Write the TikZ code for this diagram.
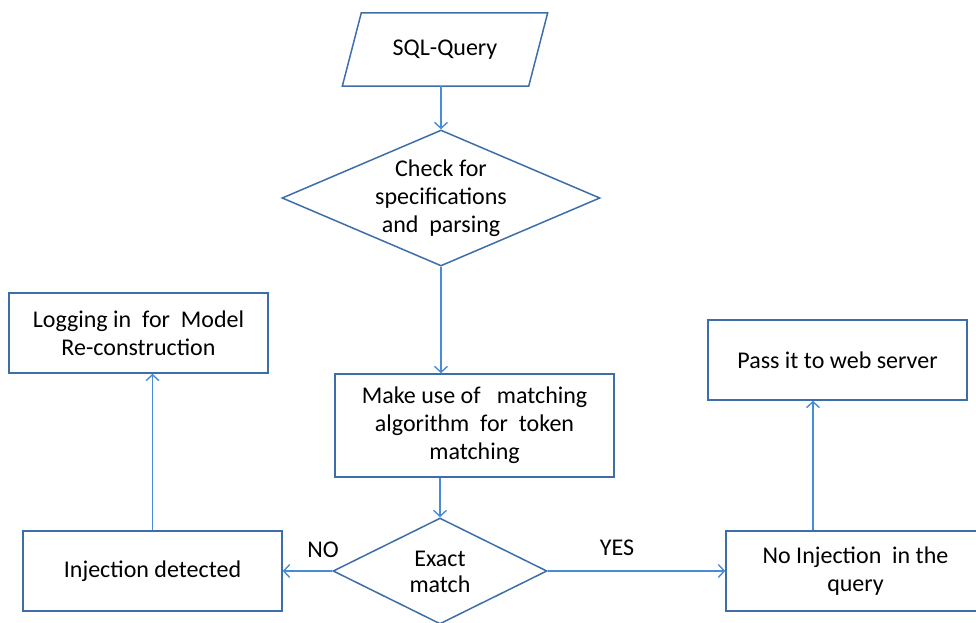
\documentclass[tikz,border=0pt]{standalone}
\usepackage{fontspec}
\setmainfont{Carlito}
\usetikzlibrary{shapes.geometric,arrows.meta}
\definecolor{edgeblue}{RGB}{62,110,170}
\definecolor{arrowblue}{RGB}{72,140,215}
\tikzset{
  txt/.style={align=center, font=\fontsize{24}{28}\selectfont, inner sep=0pt},
  box/.style={draw=edgeblue, line width=1.5pt, fill=white, txt},
  decision/.style={draw=edgeblue, line width=1.5pt, fill=white, diamond, inner sep=0pt},
  arr/.style={draw=arrowblue, line width=1.6pt,
    -{Straight Barb[length=6pt,width=13pt,line width=1.4pt]}},
  lbl/.style={font=\fontsize{24}{28}\selectfont}
}
\begin{document}
\begin{tikzpicture}[x=1pt,y=-1pt]
\useasboundingbox (0,0) rectangle (976,623);
\clip (0,0) rectangle (976,623);

% input
\node[txt, minimum width=186pt, minimum height=73pt] (sql) at (445,49.5) {SQL-Query};
\draw[draw=edgeblue, line width=1.5pt]
  ([xshift=9.5pt]sql.north west) -- ([xshift=9.5pt]sql.north east) --
  ([xshift=-9.5pt]sql.south east) -- ([xshift=-9.5pt]sql.south west) -- cycle;

% process steps
\node[decision, minimum width=318pt, minimum height=136pt] (chk) at (441,198) {};
\node[txt] (chktxt) at (chk.center) {Check for\\specifications\\and\ \ parsing};
\node[box, minimum width=279pt, minimum height=103pt] (mk) at (474.5,425.5)
  {Make use of\ \ \ matching\\algorithm\ \ for\ \ token\\matching};
\node[decision, minimum width=214pt, minimum height=106pt] (ex) at (440,571) {};
\node[txt, font=\fontsize{24}{26}\selectfont] (extxt) at (440,572) {Exact\\match};
\node[box, minimum width=259pt, minimum height=80pt] (inj) at (152.5,571)
  {Injection detected};
\node[box, minimum width=259pt, minimum height=80pt] (log) at (138.5,333)
  {Logging in\ \ for\ \ Model\\Re-construction};
\node[box, minimum width=259pt, minimum height=80pt] (noinj) at (855.5,571)
  {No Injection\ \ in the\\query};
\node[box, minimum width=259pt, minimum height=80pt] (pass) at (837.5,360)
  {Pass it to web server};

% connectors
\draw[arr] (sql.south -| chk.north) -- (chk.north);
\draw[arr] (chk.south) -- (chk.south |- mk.north);
\draw[arr] (ex.north |- mk.south) -- (ex.north);
\draw[arr] (ex.west) -- (inj.east);
\draw[arr] (ex.east) -- (noinj.west);
\draw[arr] (inj.north) -- (inj.north |- log.south);
\draw[arr] ([xshift=-42.5pt]noinj.north) -- ([xshift=-42.5pt]noinj.north |- pass.south);

% branch labels
\node[lbl] (no) at (323,550) {NO};
\node[lbl] (yes) at (617,548) {YES};
\end{tikzpicture}
\end{document}
